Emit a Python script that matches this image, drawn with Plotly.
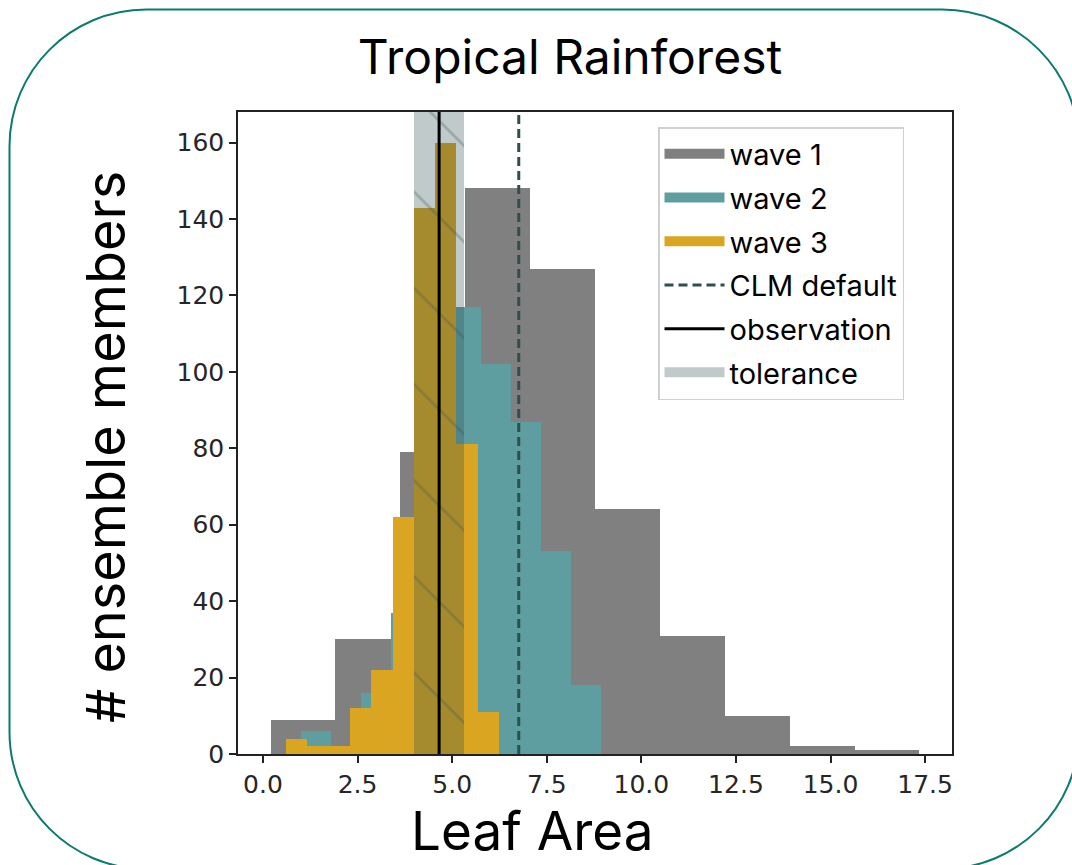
import numpy as np
import plotly.graph_objects as go

# ---------------- data ----------------
wave1_range = (0.2, 17.35)
wave1_counts = [9, 30, 79, 148, 127, 64, 31, 10, 2, 1]
wave2_range = (1.0, 8.93)
wave2_counts = [6, 1, 16, 37, 63, 117, 102, 87, 53, 18]
wave3_range = (0.61, 6.24)
wave3_counts = [4, 2, 2, 12, 22, 62, 143, 160, 81, 11]
clm_default = 6.76
observation = 4.655
tolerance = 0.665
x_ticks = [0.0, 2.5, 5.0, 7.5, 10.0, 12.5, 15.0, 17.5]
y_ticks = [0, 20, 40, 60, 80, 100, 120, 140, 160]
X_RANGE = [-0.66, 18.21]
Y_RANGE = [0, 168]

# ---------------- layout geometry ----------------
FW, FH = 1072, 865
L, R, T, B = 238, 120, 112, 111
PW, PH = FW - L - R, FH - T - B

def px(x):
    return (x - L) / PW

def py(y):
    return 1 - (y - T) / PH

C1, C2, C3 = "#808080", "#5F9EA0", "#DAA520"
TOLC = "rgba(47,79,79,0.30)"
DSG = "#2F4F4F"
MONT = "Inter, 'Open Sans', sans-serif"


def hist_bars(rng, counts):
    edges = np.linspace(rng[0], rng[1], len(counts) + 1)
    centers = (edges[:-1] + edges[1:]) / 2
    widths = np.diff(edges)
    return centers, widths

fig = go.Figure()
for name, rng, counts, col in [("wave 1", wave1_range, wave1_counts, C1),
                               ("wave 2", wave2_range, wave2_counts, C2),
                               ("wave 3", wave3_range, wave3_counts, C3)]:
    c, w = hist_bars(rng, counts)
    fig.add_trace(go.Bar(x=c, y=counts, width=w, marker=dict(color=col, line=dict(width=0)),
                         name=name, legendgroup=name, showlegend=False))
    fig.add_trace(go.Scatter(x=[None], y=[None], mode="lines", name=name, legendgroup=name,
                             line=dict(color=col, width=20)))

fig.add_trace(go.Scatter(x=[clm_default, clm_default], y=Y_RANGE, mode="lines", name="CLM default",
                         legendgroup="CLM default",
                         line=dict(color=DSG, width=3, dash="9px,5px")))
fig.add_trace(go.Scatter(x=[observation, observation], y=Y_RANGE, mode="lines", name="observation",
                         legendgroup="observation",
                         line=dict(color="black", width=3)))

# tolerance band
fig.add_trace(go.Bar(x=[observation], y=[Y_RANGE[1]], width=[2 * tolerance],
                     marker=dict(color=TOLC, line=dict(width=0),
                                 pattern=dict(shape="\\", fillmode="overlay", size=68,
                                              solidity=0.04, fgcolor="rgba(47,79,79,0.55)")),
                     name="tolerance", legendgroup="tolerance", showlegend=False))
fig.add_trace(go.Scatter(x=[None], y=[None], mode="lines", name="tolerance", legendgroup="tolerance",
                         line=dict(color="rgb(193,202,202)", width=20)))

# rounded frame
x0, y0, x1, y1, r = 9.5, 9.5, 1079, 869, 137
k = 0.5523 * r
pts = [
    f"M {px(x0)},{py(y0 + r)}",
    f"C {px(x0)},{py(y0 + r - k)} {px(x0 + r - k)},{py(y0)} {px(x0 + r)},{py(y0)}",
    f"L {px(x1 - r)},{py(y0)}",
    f"C {px(x1 - r + k)},{py(y0)} {px(x1)},{py(y0 + r - k)} {px(x1)},{py(y0 + r)}",
    f"L {px(x1)},{py(y1 - r)}",
    f"C {px(x1)},{py(y1 - r + k)} {px(x1 - r + k)},{py(y1)} {px(x1 - r)},{py(y1)}",
    f"L {px(x0 + r)},{py(y1)}",
    f"C {px(x0 + r - k)},{py(y1)} {px(x0)},{py(y1 - r + k)} {px(x0)},{py(y1 - r)}",
    "Z",
]
fig.add_shape(type="path", xref="paper", yref="paper", path=" ".join(pts),
              line=dict(color="#0b7b6c", width=2), layer="below")

axis_common = dict(showline=True, linecolor="#222", linewidth=1.5, mirror=True,
                   ticks="outside", ticklen=7, tickwidth=1.5, tickcolor="#222",
                   showgrid=False, zeroline=False,
                   tickfont=dict(family="DejaVu Sans", size=25, color="#262626"))

# axis titles placed as annotations (off-centre in the reference)
fig.add_annotation(text="Leaf Area", xref="paper", yref="paper", x=px(532), y=py(797),
                   xanchor="center", yanchor="top", showarrow=False,
                   font=dict(family=MONT, size=53, color="black"))
fig.add_annotation(text="# ensemble members", xref="paper", yref="paper", x=px(105), y=py(447),
                   xanchor="center", yanchor="middle", showarrow=False, textangle=-90,
                   font=dict(family=MONT, size=54, color="black"))

fig.update_layout(
    width=FW, height=FH,
    margin=dict(l=L, r=R, t=T, b=B, autoexpand=False),
    paper_bgcolor="white", plot_bgcolor="white",
    barmode="overlay", bargap=0,
    title=dict(text="Tropical Rainforest", x=px(570), xref="paper", xanchor="center",
               y=1 - 57 / FH, yanchor="middle",
               font=dict(family=MONT, size=48, color="black")),
    xaxis=dict(range=X_RANGE, tickvals=x_ticks, ticktext=[f"{v:.1f}" for v in x_ticks],
               **axis_common),
    yaxis=dict(range=Y_RANGE, tickvals=y_ticks, **axis_common),
    legend=dict(x=px(658), y=py(127), xanchor="left", yanchor="top",
                bgcolor="rgba(255,255,255,0.85)", bordercolor="#d0d0d0", borderwidth=1.5,
                font=dict(family=MONT, size=29, color="black"),
                itemwidth=60, tracegroupgap=3, traceorder="grouped"),
    showlegend=True,
)

fig.write_html("out.html")
